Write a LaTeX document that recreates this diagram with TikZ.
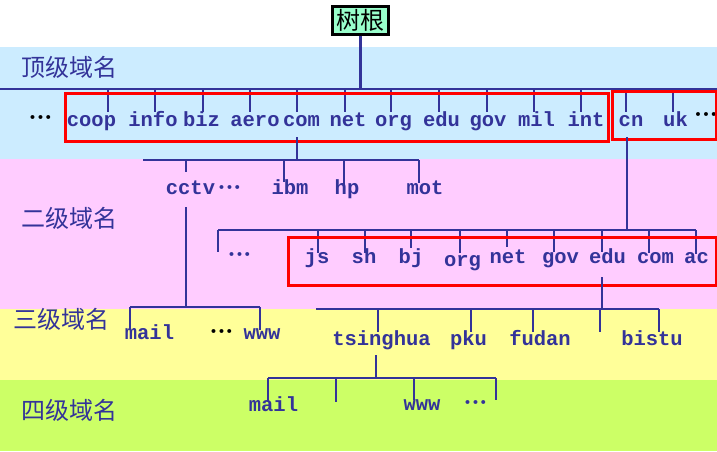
\documentclass[tikz,border=0pt]{standalone}
\usepackage{fontspec}
\setmonofont{Liberation Mono}
\newfontfamily\cjk{Noto Sans CJK SC}
\newfontfamily\dotfont{DejaVu Sans}
\usepackage{tikz}
\usetikzlibrary{calc}

\definecolor{dkblue}{HTML}{333399}
\definecolor{bandA}{HTML}{CCECFF}
\definecolor{bandB}{HTML}{FFCCFF}
\definecolor{bandC}{HTML}{FFFF99}
\definecolor{bandD}{HTML}{CCFF66}
\definecolor{mint}{HTML}{99FFCC}

\begin{document}
\begin{tikzpicture} [x=1pt, y=-1pt,
	conn/.style={draw=dkblue, line width=2.2pt},
	lbl/.style={text=dkblue, inner sep=0, anchor=base,
		font=\ttfamily\bfseries\fontsize{20.5}{24}\selectfont},
	lvl/.style={text=dkblue, inner sep=0, anchor=west,
		font=\cjk\fontsize{24}{28}\selectfont},
	dots/.style={inner sep=0, anchor=base,
		font=\dotfont\fontsize{13.5}{14}\selectfont},
	redbox/.style={draw=red, line width=3pt},
	rootbox/.style={draw=black, line width=2.4pt, fill=mint, inner sep=0,
		minimum width=56pt, minimum height=28pt,
		font=\cjk\fontsize{24}{28}\selectfont}]
	
	% bands
	\fill[white] (0,0) rectangle (717,47);
	\fill[bandA] (0,47) rectangle (717,159);
	\fill[bandB] (0,159) rectangle (717,308.5);
	\fill[bandC] (0,308.5) rectangle (717,380);
	\fill[bandD] (0,380) rectangle (717,451);
	\useasboundingbox (0,0) rectangle (717,451);
	
	\node[lvl] (lv1) at (21,67) {顶级域名};
	\node[lvl] (lv2) at (21,218) {二级域名};
	\node[lvl] (lv3) at (13,319) {三级域名};
	\node[lvl] (lv4) at (21,410) {四级域名};
	
	\node[rootbox] (root) at (360.5,20.5) {树根};
	
	% bus lines
	\coordinate (b0) at (0,89);
	\coordinate (b1) at (143,160);
	\coordinate (b2) at (218,230);
	\coordinate (b3) at (130,307);
	\coordinate (b4) at (316,309);
	\coordinate (b5) at (268,378);
	
	\draw[conn] (root.south) -- (root.south |- b0);
	\draw[conn] (b0) -- (717,89);
	\foreach \x in {108,155,203,250,297,345,391,439,487,534,581,626,673}
		\draw[conn] (\x,89) -- (\x,112);
	
	% top level
	\foreach \t/\x in {coop/91.5, info/153, biz/201.5, aero/255, com/301.5,
		net/348, org/393.5, edu/441.5, gov/488, mil/536.5, int/586, cn/631, uk/675.5}
		\node[lbl] (top-\t) at (\x,126) {\t};
	\node[dots] (dl0) at (40.5,122) {•••};
	\node[dots] (dr0) at (706,119) {•••};
	\draw[redbox] (65,93) rectangle (608,141);
	\draw[redbox] (612,91) rectangle (716,139);
	
	% under com
	\coordinate (c0) at (297,137);
	\draw[conn] (c0) -- (c0 |- b1);
	\draw[conn] (b1) -- (419,160);
	\foreach \x/\y in {186/172, 284/182, 344/187, 419/183}
		\draw[conn] (\x,160) -- (\x,\y);
	\foreach \t/\x in {cctv/190.5, ibm/290, hp/347, mot/425}
		\node[lbl] (com-\t) at (\x,194) {\t};
	\node[dots, text=dkblue] (dc1) at (229.5,192) {•••};
	
	% under cn
	\coordinate (c1) at (627,137);
	\draw[conn] (c1) -- (c1 |- b2);
	\draw[conn] (b2) -- (696,230);
	\foreach \x/\y in {218/252, 318/253, 365/253, 411/248, 460/253, 507/247,
		554/252, 602/252, 649/253, 696/254}
		\draw[conn] (\x,230) -- (\x,\y);
	\foreach \t/\x in {js/317, sh/364, bj/411, net/508, gov/560.5, edu/607.5,
		com/655.5, ac/696.5}
		\node[lbl] (cn-\t) at (\x,263) {\t};
	\node[lbl] (cn-org) at (462.5,266) {org};
	\node[dots, text=dkblue] (dc2) at (239.5,259) {•••};
	\draw[redbox] (288,237) rectangle (716,285);
	
	% under cctv
	\coordinate (c2) at (186,207);
	\draw[conn] (c2) -- (c2 |- b3);
	\draw[conn] (b3) -- (260,307);
	\foreach \x in {130,260}
		\draw[conn] (\x,307) -- (\x,330);
	\node[lbl] (tv-mail) at (149.5,339) {mail};
	\node[lbl] (tv-www) at (262,339) {www};
	\node[dots] (dc3) at (221.5,336) {•••};
	
	% under edu
	\coordinate (c3) at (602,277);
	\draw[conn] (c3) -- (c3 |- b4);
	\draw[conn] (b4) -- (659,309);
	\foreach \x in {378,471,533,600,659}
		\draw[conn] (\x,309) -- (\x,332);
	\foreach \t/\x in {tsinghua/381.5, pku/468.5, fudan/540, bistu/652}
		\node[lbl] (edu-\t) at (\x,345) {\t};
	
	% under tsinghua
	\coordinate (c4) at (376,355);
	\draw[conn] (c4) -- (c4 |- b5);
	\draw[conn] (b5) -- (496,378);
	\foreach \x/\y in {268/402, 336/402, 414/400, 496/400}
		\draw[conn] (\x,378) -- (\x,\y);
	\node[lbl] (ts-mail) at (273.5,411) {mail};
	\node[lbl] (ts-www) at (422,410) {www};
	\node[dots, text=dkblue] (dc4) at (475.5,407) {•••};
	
\end{tikzpicture}
\end{document}
